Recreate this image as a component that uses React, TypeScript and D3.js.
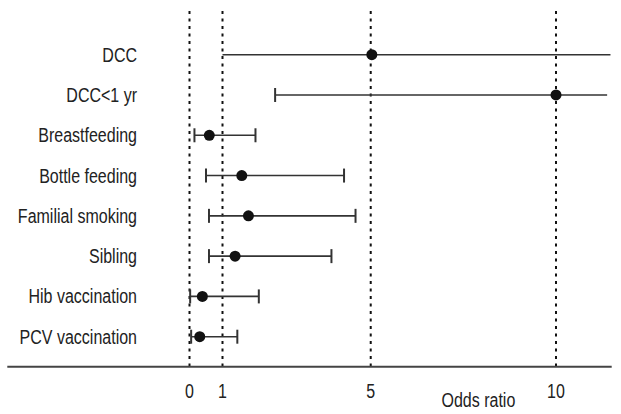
import React from "react";
import * as d3 from "d3";

const categories = [
  "DCC",
  "DCC<1 yr",
  "Breastfeeding",
  "Bottle feeding",
  "Familial smoking",
  "Sibling",
  "Hib vaccination",
  "PCV vaccination",
];
const oddsRatio = [5.03, 10.0, 0.6, 1.52, 1.7, 1.34, 0.39, 0.31];
const lowerCI = [1.0, 2.42, 0.15, 0.5, 0.59, 0.59, 0.02, 0.05];
const upperCI = [11.47, 11.38, 1.89, 4.28, 4.59, 3.94, 1.98, 1.4];
const lowerCapShown = [false, true, true, true, true, true, true, true];
const upperCapShown = [false, false, true, true, true, true, true, true];
const refLines = [0, 1, 5, 10];
const tickValues = [0, 1, 5, 10];
const axisTitle = "Odds ratio";

const W = 621;
const H = 414;
const FONT = "'Liberation Sans', Arial, sans-serif";
const SX = 0.8;

export default function App() {
  const x = d3.scaleLinear().domain([0, 1, 10]).range([189.5, 222.5, 556]);
  const y = d3.scalePoint<string>().domain(categories).range([54.7, 336.7]);
  const axisY = 366.7;
  const capH = 7;

  return (
    <svg
      width={W}
      height={H}
      style={{ position: "absolute", left: 0, top: 0, background: "#fff" }}
    >
      {refLines.map((v) => (
        <line
          key={"ref" + v}
          x1={x(v)}
          x2={x(v)}
          y1={11}
          y2={axisY}
          stroke="#111"
          strokeWidth={2}
          strokeDasharray="3 4.5"
        />
      ))}
      <line x1={7.3} x2={611.7} y1={axisY} y2={axisY} stroke="#444" strokeWidth={2} />
      {categories.map((c, i) => {
        const yy = y(c) as number;
        return (
          <g key={c}>
            <text
              transform={`translate(137,${yy + 7}) scale(${SX},1)`}
              textAnchor="end"
              fontFamily={FONT}
              fontSize={20}
              fill="#222"
            >
              {c}
            </text>
            <line
              x1={x(lowerCI[i])}
              x2={x(upperCI[i])}
              y1={yy}
              y2={yy}
              stroke="#333"
              strokeWidth={1.6}
            />
            {lowerCapShown[i] && (
              <line
                x1={x(lowerCI[i])}
                x2={x(lowerCI[i])}
                y1={yy - capH}
                y2={yy + capH}
                stroke="#333"
                strokeWidth={2}
              />
            )}
            {upperCapShown[i] && (
              <line
                x1={x(upperCI[i])}
                x2={x(upperCI[i])}
                y1={yy - capH}
                y2={yy + capH}
                stroke="#333"
                strokeWidth={2}
              />
            )}
            <circle cx={x(oddsRatio[i])} cy={yy} r={5.5} fill="#111" />
          </g>
        );
      })}
      {tickValues.map((v) => (
        <text
          key={"t" + v}
          transform={`translate(${x(v)},398) scale(${SX},1)`}
          textAnchor="middle"
          fontFamily={FONT}
          fontSize={20}
          fill="#222"
        >
          {v}
        </text>
      ))}
      <text
        transform={`translate(441.5,406.5) scale(${SX},1)`}
        fontFamily={FONT}
        fontSize={20}
        fill="#222"
      >
        {axisTitle}
      </text>
    </svg>
  );
}
